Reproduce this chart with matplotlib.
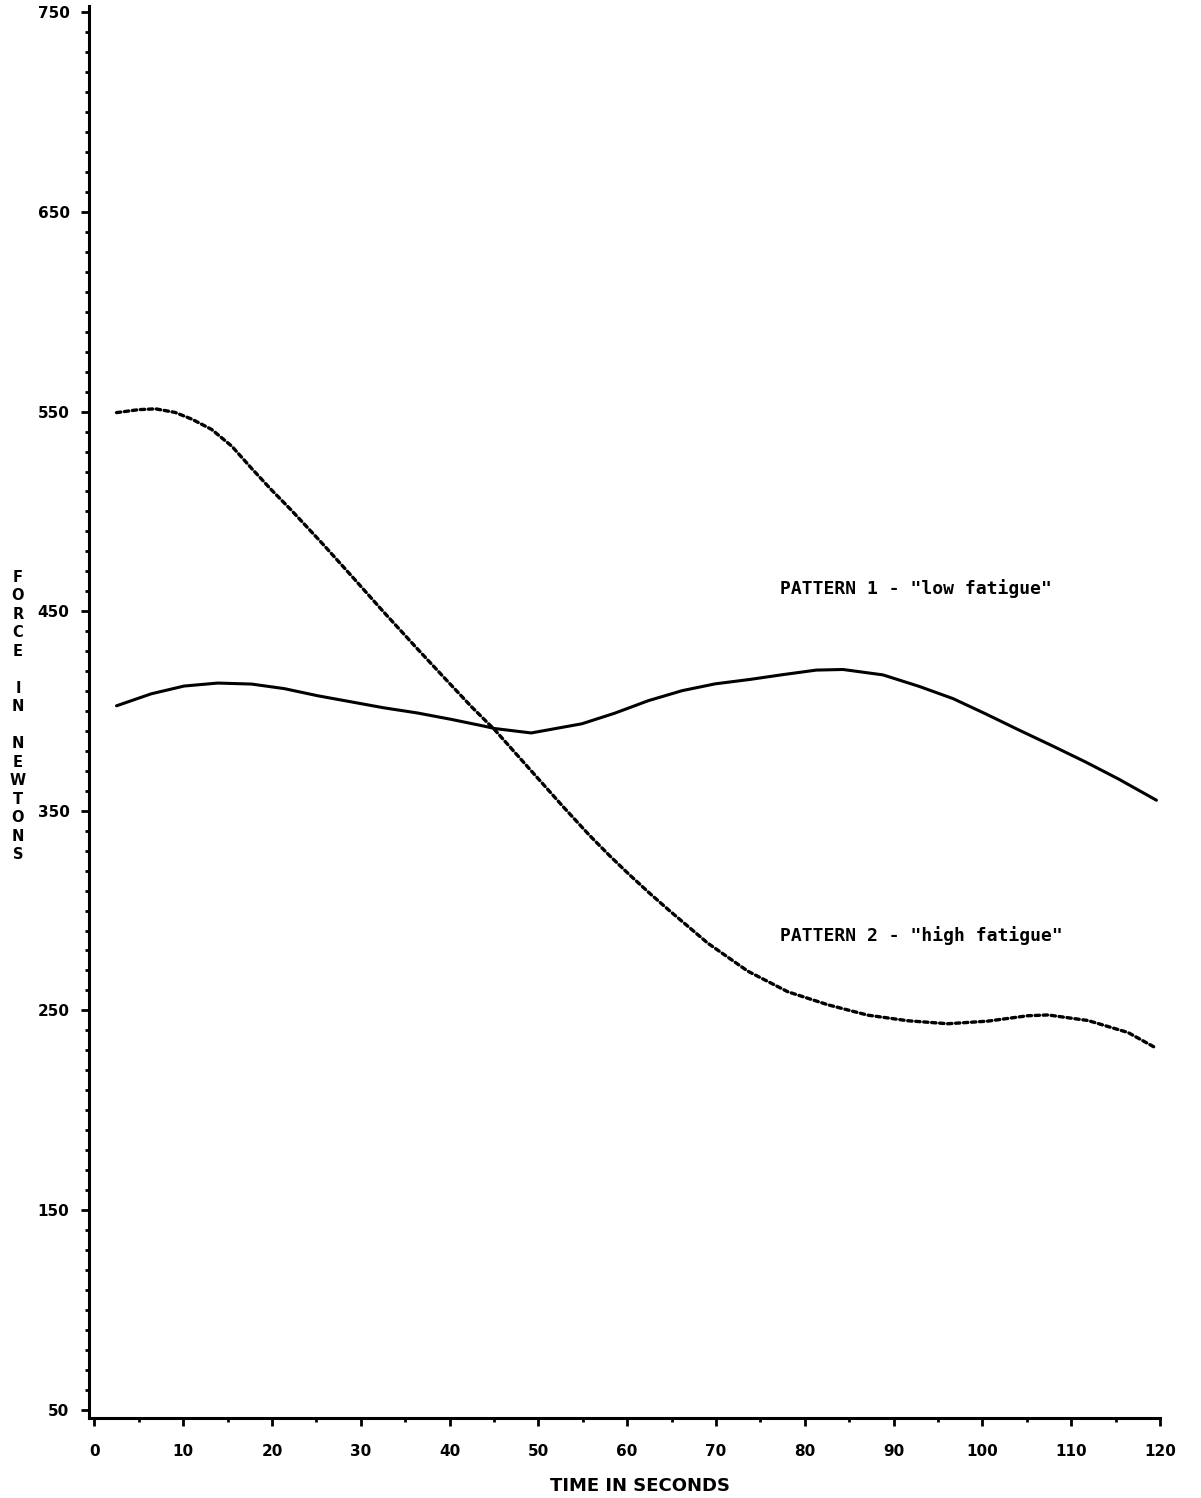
import matplotlib
matplotlib.use("Agg")
import matplotlib.pyplot as plt
from matplotlib.ticker import MultipleLocator

# force curves sampled along time (seconds, newtons)
low_time = [2.5, 6.4, 10.1, 13.9, 17.7, 21.4, 25.2, 28.9, 32.6, 36.4, 40.2, 43.9,
            45.1, 49.2, 54.9, 58.6, 62.4, 66.2, 69.9, 73.8, 77.5, 81.3, 84.3,
            88.8, 92.9, 96.7, 100.4, 104.1, 107.9, 111.6, 115.3, 119.6]
low_force = [402.6, 408.6, 412.5, 414.0, 413.5, 411.2, 407.6, 404.6, 401.6, 399.0,
             395.8, 392.4, 391.2, 389.0, 393.6, 398.9, 405.2, 410.2, 413.6, 415.8,
             418.2, 420.5, 420.8, 418.1, 412.3, 406.2, 398.5, 390.5, 382.5, 374.5,
             366.0, 355.3]

high_time = [2.5, 5.0, 6.9, 9.1, 11.0, 13.2, 15.5, 17.7, 19.9, 22.1, 24.3, 25.8,
             29.2, 32.5, 36.2, 39.9, 42.5, 45.1, 49.1, 52.8, 55.8, 58.0, 60.2,
             62.5, 64.7, 69.1, 73.6, 78.1, 82.6, 87.1, 91.6, 96.1, 100.6, 105.1,
             107.4, 111.9, 116.4, 119.4]
high_force = [549.5, 551.0, 551.4, 549.6, 546.2, 541.1, 532.6, 521.6, 511.0, 501.0,
              490.5, 483.3, 466.5, 450.0, 432.0, 414.3, 402.0, 390.5, 370.5, 352.0,
              337.5, 327.6, 318.2, 308.8, 300.2, 283.6, 269.6, 259.3, 252.8, 247.6,
              244.8, 243.3, 244.6, 247.3, 247.7, 244.9, 238.9, 231.5]

x_ticks = list(range(0, 121, 10))
y_ticks = list(range(50, 751, 100))

plt.rcParams["font.family"] = "DejaVu Sans"
plt.rcParams["font.weight"] = "bold"

W, H = 1201, 1498
fig = plt.figure(figsize=(W / 100, H / 100), dpi=100)
left, right, top, bottom = 89, 1160, 5.5, 1417.5
ax = fig.add_axes([left / W, 1 - bottom / H, (right - left) / W, (bottom - top) / H])

ax.plot(low_time, low_force, color="black", lw=2.2, solid_capstyle="round",
        solid_joinstyle="round")
ax.plot(high_time, high_force, color="black", lw=2.4, linestyle=(0, (1.3, 1.1)),
        dash_capstyle="round")

ax.set_xlim(-0.6, 120)
ax.set_ylim(46, 753.5)
ax.set_xticks(x_ticks)
ax.set_yticks(y_ticks)
ax.xaxis.set_minor_locator(MultipleLocator(5))
ax.yaxis.set_minor_locator(MultipleLocator(10))

for side in ("top", "right"):
    ax.spines[side].set_visible(False)
for side in ("left", "bottom"):
    ax.spines[side].set_linewidth(2.2)

ax.tick_params(which="major", length=6, width=2, labelsize=11)
ax.tick_params(which="minor", length=3, width=2)
ax.tick_params(axis="x", which="major", pad=13)
ax.tick_params(axis="y", which="major", pad=8)
for lbl in ax.get_xticklabels() + ax.get_yticklabels():
    lbl.set_fontweight("bold")

note_font = dict(family="DejaVu Sans Mono", fontsize=13, fontweight="bold",
                 ha="left", va="center")
ax.text(77.2, 461.6, 'PATTERN 1 - "low fatigue"', **note_font)
ax.text(77.2, 287.7, 'PATTERN 2 - "high fatigue"', **note_font)

fig.text(640 / W, 1 - 1486 / H, "TIME IN SECONDS", fontsize=13, fontweight="bold",
         ha="center", va="center")
fig.text(18 / W, 1 - 716 / H, "F\nO\nR\nC\nE\n \nI\nN\n \nN\nE\nW\nT\nO\nN\nS",
         fontsize=10.5, fontweight="bold", ha="center", va="center", linespacing=1.29)

fig.savefig("out.png", dpi=100)
